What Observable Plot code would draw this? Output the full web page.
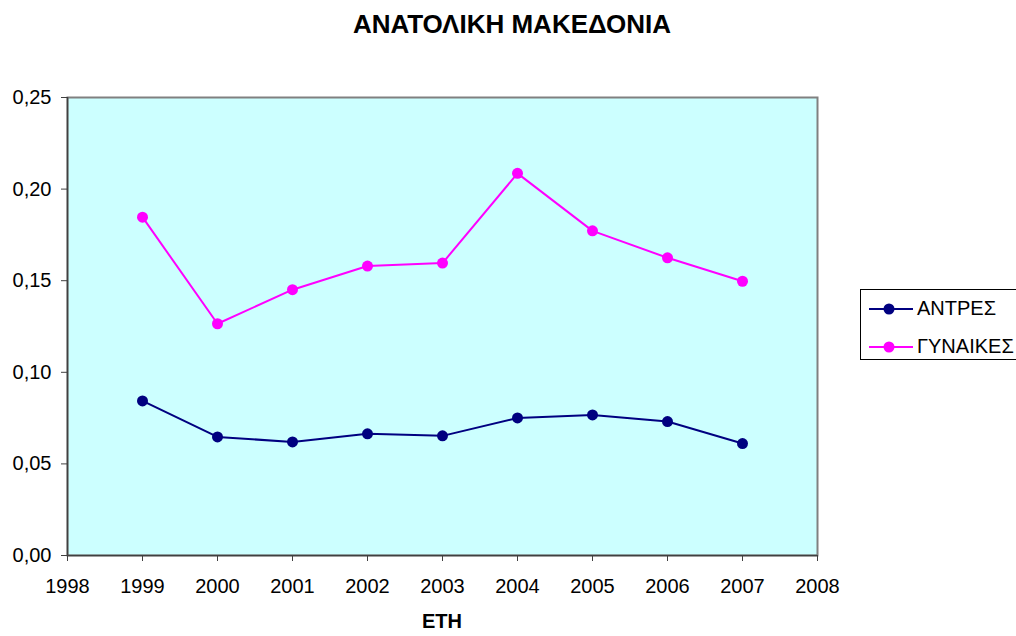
<!DOCTYPE html>
<html>
<head>
<meta charset="utf-8">
<script src="https://cdn.jsdelivr.net/npm/d3@7"></script>
<script src="https://cdn.jsdelivr.net/npm/@observablehq/plot@0.6"></script>
<style>
  html, body { margin: 0; padding: 0; background: #fff; }
  #wrap { position: relative; width: 1016px; height: 636px; overflow: hidden; font-family: "Liberation Sans", Arial, sans-serif; }
  #title { position: absolute; left: 4px; width: 1016px; top: 9px; text-align: center; font-weight: bold; font-size: 26px; color: #000; }
  #xlabel { position: absolute; left: 67px; width: 750px; top: 610px; text-align: center; font-weight: bold; font-size: 20px; color: #000; }
  #chart { position: absolute; left: 0; top: 0; }
  #legend { position: absolute; left: 860px; top: 289px; width: 170px; height: 71px; border: 1px solid #000; background: #fff; box-sizing: border-box; }
  .li { position: absolute; left: 56px; font-size: 20px; color: #000; line-height: 20px; }
</style>
</head>
<body>
<div id="wrap">
  <div id="chart"></div>
  <div id="title">ΑΝΑΤΟΛΙΚΗ ΜΑΚΕΔΟΝΙΑ</div>
  <div id="xlabel">ΕΤΗ</div>
  <div id="legend"></div>
</div>
<script>
const years = [1999, 2000, 2001, 2002, 2003, 2004, 2005, 2006, 2007];
const men =   [0.0844, 0.0647, 0.0620, 0.0664, 0.0653, 0.0751, 0.0767, 0.0731, 0.0611];
const women = [0.1847, 0.1265, 0.1451, 0.1580, 0.1596, 0.2086, 0.1772, 0.1625, 0.1497];
const seriesNames = ["ΑΝΤΡΕΣ", "ΓΥΝΑΙΚΕΣ"];
const seriesColors = ["#000080", "#FF00FF"];
const xTicks = [1998, 1999, 2000, 2001, 2002, 2003, 2004, 2005, 2006, 2007, 2008];
const yTicks = [0, 0.05, 0.10, 0.15, 0.20, 0.25];

const data = [];
years.forEach((y, i) => {
  data.push({year: y, value: men[i], series: seriesNames[0]});
  data.push({year: y, value: women[i], series: seriesNames[1]});
});

const chart = Plot.plot({
  width: 1016,
  height: 636,
  marginTop: 97,
  marginLeft: 67,
  marginRight: 199,
  marginBottom: 81,
  style: {fontFamily: '"Liberation Sans", Arial, sans-serif', fontSize: "20px", color: "#000", background: "transparent"},
  x: {domain: [1998, 2008], ticks: xTicks, tickFormat: d => String(d), label: null},
  y: {domain: [0, 0.25], ticks: yTicks, tickFormat: d => d.toFixed(2).replace(".", ","), label: null},
  color: {domain: seriesNames, range: seriesColors},
  marks: [
    Plot.frame({fill: "#CCFFFF", stroke: "#808080", strokeWidth: 2}),
    Plot.axisX({ticks: xTicks, tickFormat: d => String(d), tickSize: 6, tickPadding: 17, stroke: "#404040", label: null, fontSize: 20}),
    Plot.axisY({ticks: yTicks, tickFormat: d => d.toFixed(2).replace(".", ","), tickSize: 6, tickPadding: 10, stroke: "#404040", label: null, fontSize: 20}),
    Plot.ruleX([1998], {stroke: "#404040", strokeWidth: 1.5}),
    Plot.ruleY([0], {stroke: "#404040", strokeWidth: 1.5}),
    Plot.line(data, {x: "year", y: "value", z: "series", stroke: "series", strokeWidth: 2}),
    Plot.dot(data, {x: "year", y: "value", fill: "series", r: 5.5, stroke: "none"})
  ]
});
document.getElementById("chart").appendChild(chart);

// legend
const leg = document.getElementById("legend");
const ns = "http://www.w3.org/2000/svg";
const lsvg = document.createElementNS(ns, "svg");
lsvg.setAttribute("width", 56);
lsvg.setAttribute("height", 68);
lsvg.style.position = "absolute";
lsvg.style.left = "0px";
lsvg.style.top = "0px";
const rowY = [19, 57];
seriesNames.forEach((name, i) => {
  const ln = document.createElementNS(ns, "line");
  ln.setAttribute("x1", 8); ln.setAttribute("x2", 52);
  ln.setAttribute("y1", rowY[i]); ln.setAttribute("y2", rowY[i]);
  ln.setAttribute("stroke", seriesColors[i]); ln.setAttribute("stroke-width", 2);
  lsvg.appendChild(ln);
  const c = document.createElementNS(ns, "circle");
  c.setAttribute("cx", 28); c.setAttribute("cy", rowY[i]); c.setAttribute("r", 5.5);
  c.setAttribute("fill", seriesColors[i]);
  lsvg.appendChild(c);
  const t = document.createElement("div");
  t.className = "li";
  t.style.top = (rowY[i] - 11) + "px";
  t.textContent = name;
  leg.appendChild(t);
});
leg.appendChild(lsvg);
</script>
</body>
</html>
